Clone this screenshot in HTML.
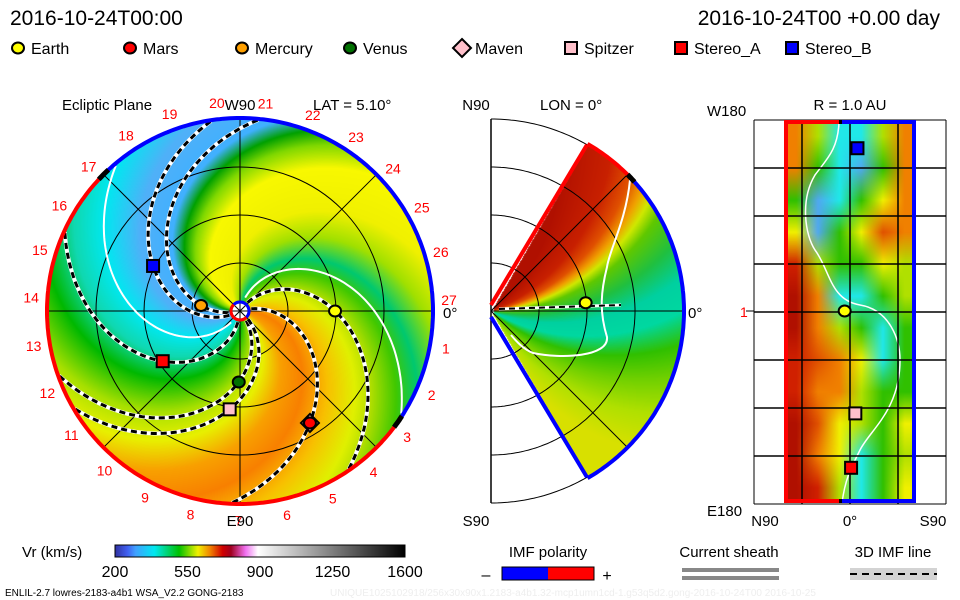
<!DOCTYPE html>
<html><head><meta charset="utf-8">
<style>
html,body{margin:0;padding:0;background:#fff;}
#wrap{position:relative;width:960px;height:600px;overflow:hidden;background:#fff;font-family:"Liberation Sans",sans-serif;}
canvas{position:absolute;}
svg{position:absolute;left:0;top:0;}
text{font-family:"Liberation Sans",sans-serif;}
</style></head>
<body>
<div id="wrap">
<canvas id="cvL" width="400" height="400" style="left:40px;top:111px"></canvas>
<canvas id="cvM" width="200" height="384" style="left:491px;top:119px"></canvas>
<canvas id="cvR" width="130" height="383" style="left:785px;top:120px"></canvas>
<svg id="sv" width="960" height="600"></svg>
</div>
<script>
// ---------- data ----------
const bodyNames = ['Earth','Mars','Mercury','Venus','Maven','Spitzer','Stereo_A','Stereo_B'];
const bodyR   = [0.99, 1.375, 0.41, 0.74, 1.375, 1.03, 0.96, 1.02];   // AU
const bodyLon = [0, -58, 172, 269, -58, 264, 213, 152.6];             // deg, ecliptic
const bodyLat = [5, 0, 0, 0, 0, -5, -1, -7];                          // deg
const bodyInSphere = [true,false,false,false,false,true,true,true];
const spiralBodies = ['Earth','Mars','Mercury','Venus','Spitzer','Stereo_A','Stereo_B'];
const sheathPhases = [185, 22];
const carrLabels = [1,2,3,4,5,6,7,8,9,10,11,12,13,14,15,16,17,18,19,20,21,22,23,24,25,26,27];
const cbTicks = [200, 550, 900, 1250, 1600];
const cbSpeeds = [200, 260, 300, 390, 510, 600, 660, 720, 760, 830, 890, 1600];
const cbColors = ['#3030a0','#4060f0','#40a0ff','#00e8f0','#00c000','#f0f000','#f08000','#d00000','#a00020','#f070f0','#ffffff','#000000'];

const K = 55; // spiral winding deg/AU
const CX = 240, CY = 311, PX = 96; // left panel
const MX = 491, MY = 311;          // middle panel
const sv = document.getElementById('sv');
const NS = 'http://www.w3.org/2000/svg';

function hex(c){return [parseInt(c.slice(1,3),16),parseInt(c.slice(3,5),16),parseInt(c.slice(5,7),16)];}
function interp(stops,v){
  if(v<=stops[0][0]) return hex(stops[0][1]);
  for(let i=1;i<stops.length;i++){
    if(v<=stops[i][0]){const a=hex(stops[i-1][1]),b=hex(stops[i][1]);const t=(v-stops[i-1][0])/(stops[i][0]-stops[i-1][0]);
      return [a[0]+(b[0]-a[0])*t,a[1]+(b[1]-a[1])*t,a[2]+(b[2]-a[2])*t];}
  }
  return hex(stops[stops.length-1][1]);
}
function el(tag,attrs,parent){const e=document.createElementNS(NS,tag);for(const k in attrs)e.setAttribute(k,attrs[k]);(parent||sv).appendChild(e);return e;}
function txt(x,y,s,size,fill,anchor,name){const t=el('text',{x:x,y:y,'font-size':size,fill:fill||'#000','text-anchor':anchor||'start'});t.textContent=s;
  
  
  return t;}
function polar(r,deg){const a=deg*Math.PI/180;return [CX+r*PX*Math.cos(a),CY-r*PX*Math.sin(a)];}
function arcPts(cx,cy,R,a1,a2){const p=[];const n=Math.max(8,Math.ceil(Math.abs(a2-a1)));for(let i=0;i<=n;i++){const a=(a1+(a2-a1)*i/n)*Math.PI/180;p.push((cx+R*Math.cos(a)).toFixed(1)+','+(cy-R*Math.sin(a)).toFixed(1));}return p.join(' ');}

// ---------- left field ----------
const phiStops=[[0,'#b8e000'],[18,'#40c800'],[32,'#00c870'],[50,'#a0e000'],[70,'#f0f000'],[100,'#f8f800'],[115,'#80d800'],[125,'#00a000'],[135,'#40b0ff'],[160,'#50b0f8'],[185,'#00e8f0'],[205,'#10d8b0'],[225,'#00b800'],[250,'#a8e000'],[270,'#e8f000'],[290,'#f8a000'],[310,'#f88000'],[330,'#f8c000'],[350,'#e0f000'],[360,'#b8e000']];
(function(){
  const c=document.getElementById('cvL').getContext('2d');const im=c.createImageData(400,400);
  for(let y=0;y<400;y++)for(let x=0;x<400;x++){
    const dx=x-200,dy=200-y,r=Math.sqrt(dx*dx+dy*dy);if(r>193)continue;
    const i=(y*400+x)*4;let col;
    if(r<9){col=[255,255,255];}else{
      const th=Math.atan2(dy,dx)*180/Math.PI;let phi=th+K*(r/PX-1);phi=((phi%360)+360)%360;col=interp(phiStops,phi);}
    im.data[i]=col[0];im.data[i+1]=col[1];im.data[i+2]=col[2];im.data[i+3]=255;}
  c.putImageData(im,0,0);
})();
// ---------- middle field ----------
const sStops=[[-75,'#d8e000'],[-62,'#b0e000'],[-50,'#70d000'],[-40,'#30c000'],[-30,'#00d8a0'],[-20,'#00d0a0'],[-10,'#20c040'],[0,'#60c800'],[5,'#d0e800'],[9,'#f0a000'],[14,'#e05000'],[22,'#c82000'],[40,'#b01000']];
(function(){
  const c=document.getElementById('cvM').getContext('2d');const im=c.createImageData(200,384);
  for(let y=0;y<384;y++)for(let x=0;x<200;x++){
    const dx=x,dy=192-y,r=Math.sqrt(dx*dx+dy*dy);if(r>192||r<3)continue;
    const lat=Math.atan2(dy,dx)*180/Math.PI;if(Math.abs(lat)>60)continue;
    const col=interp(sStops,lat-15*r/PX);const i=(y*200+x)*4;
    im.data[i]=col[0];im.data[i+1]=col[1];im.data[i+2]=col[2];im.data[i+3]=255;}
  c.putImageData(im,0,0);
})();
// ---------- right field ----------
const gridC={dr:'#b01000',r:'#d02000',ro:'#e05000',o:'#f08000',y:'#f0f000',yg:'#b0e000',g:'#30c000',c:'#20e8e8',b:'#50a8f0',t:'#00d0a0'};
const sphereGrid=[
 ['o','yg','c','c','yg','o'],
 ['o','g','c','b','g','o'],
 ['g','b','c','g','y','o'],
 ['y','b','g','y','ro','o'],
 ['r','yg','g','g','y','yg'],
 ['dr','o','c','c','g','yg'],
 ['dr','o','yg','g','c','g'],
 ['r','ro','o','y','c','g'],
 ['r','o','o','yg','g','g'],
 ['dr','ro','y','yg','g','y'],
 ['dr','o','y','c','g','yg'],
 ['dr','r','yg','c','g','y']];
(function(){
  const c=document.getElementById('cvR').getContext('2d');const W=130,H=383;const im=c.createImageData(W,H);
  const nr=sphereGrid.length,nc=sphereGrid[0].length;
  for(let y=0;y<H;y++)for(let x=0;x<W;x++){
    let gx=x/W*nc-0.5,gy=y/H*nr-0.5;gx=Math.max(0,Math.min(nc-1.001,gx));gy=Math.max(0,Math.min(nr-1.001,gy));
    const x0=Math.floor(gx),y0=Math.floor(gy),tx=gx-x0,ty=gy-y0;
    const a=hex(gridC[sphereGrid[y0][x0]]),b=hex(gridC[sphereGrid[y0][x0+1]]),cc=hex(gridC[sphereGrid[y0+1][x0]]),d=hex(gridC[sphereGrid[y0+1][x0+1]]);
    const i=(y*W+x)*4;
    for(let k=0;k<3;k++)im.data[i+k]=(a[k]*(1-tx)+b[k]*tx)*(1-ty)+(cc[k]*(1-tx)+d[k]*tx)*ty;
    im.data[i+3]=255;}
  c.putImageData(im,0,0);
})();

// ---------- header ----------
txt(10,25,'2016-10-24T00:00',21,'#000','start','date-title');
txt(940,25,'2016-10-24T00 +0.00 day',21,'#000','end','elapsed-title');
const legX=[18,130,242,350,462,571,681,792];
const fills={Earth:'#ffff00',Mars:'#ff0000',Mercury:'#ffa000',Venus:'#007000',Maven:'#ffc0cb',Spitzer:'#ffc0cb',Stereo_A:'#ff0000',Stereo_B:'#0000ff'};
function marker(name,x,y,g){
  let m;
  if(['Earth','Mars','Mercury','Venus'].includes(name)) m=el('ellipse',{cx:x,cy:y,rx:6,ry:5.5,fill:fills[name],stroke:'#000','stroke-width':2},g);
  else if(name==='Maven') m=el('polygon',{points:`${x},${y-9} ${x+9},${y} ${x},${y+9} ${x-9},${y}`,fill:fills[name],stroke:'#000','stroke-width':2},g);
  else m=el('rect',{x:x-6,y:y-6,width:12,height:12,fill:fills[name],stroke:'#000','stroke-width':2},g);
  return m;
}
bodyNames.forEach((n,i)=>{
  const g=el('g',{});
  
  
  marker(n,legX[i],48,g);
  const t=el('text',{x:legX[i]+13,y:54,'font-size':16},g);t.textContent=n;
});

// ---------- left panel overlay ----------
txt(62,110,'Ecliptic Plane',15,'#000','start','ecliptic-title');
txt(313,110,'LAT = 5.10°',15,'#000','start','lat-label');
[0.5,1,1.5].forEach(r=>{const c=el('circle',{cx:CX,cy:CY,r:r*PX,fill:'none',stroke:'#000','stroke-width':1});
  
  });
[0,45,90,135].forEach(a=>{const p1=polar(2.01,a),p2=polar(2.01,a+180);const l=el('line',{x1:p1[0],y1:p1[1],x2:p2[0],y2:p2[1],stroke:'#000','stroke-width':1});
  
  });
sheathPhases.forEach(ph=>{const pts=[];for(let r=0.15;r<=2.005;r+=0.02){const p=polar(r,ph-K*(r-1));pts.push(p[0].toFixed(1)+','+p[1].toFixed(1));}
  const l=el('polyline',{points:pts.join(' '),fill:'none',stroke:'#fff','stroke-width':2});
  
  });
spiralBodies.forEach(n=>{const i=bodyNames.indexOf(n);const pts=[];
  for(let r=0.12;r<=2.005;r+=0.02){const p=polar(r,bodyLon[i]-K*(r-bodyR[i]));pts.push(p[0].toFixed(1)+','+p[1].toFixed(1));}
  const w=el('polyline',{points:pts.join(' '),fill:'none',stroke:'#fff','stroke-width':4});
  
  
  const b=el('polyline',{points:pts.join(' '),fill:'none',stroke:'#000','stroke-width':3,'stroke-dasharray':'6 4'});
  
  });
const rb=el('polyline',{points:arcPts(CX,CY,193,-35,135),fill:'none',stroke:'#0000ff','stroke-width':4});


const rr=el('polyline',{points:arcPts(CX,CY,193,135,325),fill:'none',stroke:'#ff0000','stroke-width':4});


[[133,137],[-37,-33]].forEach(a=>{const k=el('polyline',{points:arcPts(CX,CY,193,a[0],a[1]),fill:'none',stroke:'#000','stroke-width':5});
  
  });
const sunB=el('polyline',{points:arcPts(CX,CY,9,-45,135),fill:'none',stroke:'#0000ff','stroke-width':3});


const sunR=el('polyline',{points:arcPts(CX,CY,9,135,315),fill:'none',stroke:'#ff0000','stroke-width':3});


carrLabels.forEach(n=>{const a=3+(27-n)*13.333;const p=polar(2.18,a);
  txt(p[0],p[1]+5,String(n),14,'#ff0000','middle','carrington-label-'+n);});
txt(240,110,'W90',15,'#000','middle','w90-label');
txt(240,526,'E90',15,'#000','middle','e90-label');
txt(443,318,'0°',15,'#000','start','lon0-label');
bodyNames.forEach((n,i)=>{const p=polar(bodyR[i],bodyLon[i]);const m=marker(n,p[0],p[1]);
  
  });
{const i=bodyNames.indexOf('Mars');const p=polar(bodyR[i],bodyLon[i]);const m=marker('Mars',p[0],p[1]);
  
  }

// ---------- middle panel overlay ----------
txt(476,110,'N90',15,'#000','middle','n90-label');
txt(540,110,'LON = 0°',15,'#000','start','lon-label');
txt(476,526,'S90',15,'#000','middle','s90-label');
txt(688,318,'0°',15,'#000','start','mid-lat0-label');
[48,96,144,192].forEach(R=>{const c=el('polyline',{points:arcPts(MX,MY,R,-90,90),fill:'none',stroke:'#000','stroke-width':1});
  
  });
{const l=el('line',{x1:MX,y1:MY-192,x2:MX,y2:MY+192,stroke:'#000','stroke-width':1.5});
  
  }
[45,0,-45].forEach(a=>{const r=a*Math.PI/180;const l=el('line',{x1:MX,y1:MY,x2:MX+192*Math.cos(r),y2:MY-192*Math.sin(r),stroke:'#000','stroke-width':1});
  
  });
{const ctr=el('path',{d:`M${MX+139},${MY-131} C${MX+135},${MY-90} ${MX+118},${MY-60} ${MX+116},${MY-44} C${MX+110},${MY-20} ${MX+108},${MY} ${MX+116},${MY+26} C${MX+118},${MY+46} ${MX+70},${MY+48} ${MX+42},${MY+42} C${MX+32},${MY+38} ${MX+25},${MY+30} ${MX+20},${MY+24}`,fill:'none',stroke:'#fff','stroke-width':2});
 
 }
{const e=0;const r=bodyR[e]*PX,a=bodyLat[e]*Math.PI/180;const ex=MX+r*Math.cos(a),ey=MY-r*Math.sin(a);
 const w=el('line',{x1:MX+8,y1:MY-2,x2:MX+130,y2:MY-6,stroke:'#fff','stroke-width':3});
 
 
 const l=el('line',{x1:MX+8,y1:MY-2,x2:MX+130,y2:MY-6,stroke:'#000','stroke-width':2,'stroke-dasharray':'6 4'});
 
 
 const m=marker('Earth',ex,ey);
 
 }
{const p1=el('line',{x1:MX,y1:MY-6,x2:MX+192*Math.cos(Math.PI/3),y2:MY-192*Math.sin(Math.PI/3),stroke:'#ff0000','stroke-width':4});
 
 
 const p2=el('line',{x1:MX,y1:MY+6,x2:MX+192*Math.cos(Math.PI/3),y2:MY+192*Math.sin(Math.PI/3),stroke:'#0000ff','stroke-width':4});
 
 
 const a1=el('polyline',{points:arcPts(MX,MY,193,44,60),fill:'none',stroke:'#ff0000','stroke-width':4});
 
 
 const a2=el('polyline',{points:arcPts(MX,MY,193,-60,43),fill:'none',stroke:'#0000ff','stroke-width':4});
 
 
 const a3=el('polyline',{points:arcPts(MX,MY,193,42,45),fill:'none',stroke:'#000','stroke-width':5});
 
 }

// ---------- right panel overlay ----------
const RX0=754,RY0=120,RW=192,RH=384;
function latX(lat){return 850-lat*96/90;}
function lonY(lon){let d=((lon+180)%360+360)%360-180;return 311-d*RH/360;}
txt(707,116,'W180',15,'#000','start','w180-label');
txt(707,516,'E180',15,'#000','start','e180-label');
txt(850,110,'R = 1.0 AU',15,'#000','middle','radius-label');
txt(765,526,'N90',15,'#000','middle','sphere-n90-label');
txt(850,526,'0°',15,'#000','middle','sphere-lat0-label');
txt(933,526,'S90',15,'#000','middle','sphere-s90-label');
txt(740,317,'1',14,'#ff0000','start','sphere-carrington-label');
{const tk=el('line',{x1:746,y1:311,x2:754,y2:311,stroke:'#000','stroke-width':1});
 
 }
{const sh=el('path',{d:'M839,122 C838,150 826,160 815,175 C800,200 805,235 815,250 C830,270 830,300 860,305 C890,310 900,340 900,360 C900,410 870,430 860,450 C850,470 845,480 842,503',fill:'none',stroke:'#fff','stroke-width':1.5});
 
 }
for(let i=0;i<=8;i++){const l=el('line',{x1:RX0,y1:RY0+i*48,x2:RX0+RW,y2:RY0+i*48,stroke:'#000','stroke-width':i%8?1.5:1});
  
  }
for(let i=0;i<=4;i++){const l=el('line',{x1:RX0+i*48,y1:RY0,x2:RX0+i*48,y2:RY0+RH,stroke:'#000','stroke-width':i%4?1.5:1});
  
  }
[['M786,120 L786,503','#ff0000'],['M786,122 L839,122','#ff0000'],['M786,501 L839,501','#ff0000'],['M842,122 L914,122','#0000ff'],['M842,501 L914,501','#0000ff'],['M914,120 L914,503','#0000ff'],['M839,122 L842,122','#000'],['M839,501 L842,501','#000']].forEach(d=>{
  const p=el('path',{d:d[0],stroke:d[1],'stroke-width':4,fill:'none'});
  
  });
bodyNames.forEach((n,i)=>{if(!bodyInSphere[i])return;const m=marker(n,latX(bodyLat[i]),lonY(bodyLon[i]));
  
  });

// ---------- colorbar ----------
const CB0=115,CB1=405;
function cbX(v){return CB0+(v-200)/(1600-200)*(CB1-CB0);}
{const d=el('defs',{});const g=el('linearGradient',{id:'cbg',x1:0,x2:1,y1:0,y2:0},d);
 cbSpeeds.forEach((v,i)=>el('stop',{offset:((v-200)/1400*100).toFixed(1)+'%','stop-color':cbColors[i]},g));
 const r=el('rect',{x:CB0,y:545,width:CB1-CB0,height:12,fill:'url(#cbg)',stroke:'#000','stroke-width':1});
 
 }
txt(22,557,'Vr (km/s)',15,'#000','start','colorbar-title');
cbTicks.forEach(v=>txt(cbX(v),577,String(v),16,'#000','middle','colorbar-tick-'+v));
txt(548,557,'IMF polarity',15,'#000','middle','imf-polarity-title');
{const b=el('rect',{x:502,y:567,width:46,height:13,fill:'#0000ff'});
 
 
 const r=el('rect',{x:548,y:567,width:46,height:13,fill:'#ff0000'});
 
 
 const o=el('rect',{x:502,y:567,width:92,height:13,fill:'none',stroke:'#000','stroke-width':1});
 
 }
txt(486,580,'–',16,'#000','middle','polarity-minus');
txt(607,581,'+',16,'#000','middle','polarity-plus');
txt(729,557,'Current sheath',15,'#000','middle','current-sheath-title');
[570,578].forEach(y=>{const l=el('rect',{x:682,y:y-2,width:97,height:4,fill:'#888'});
  
  });
txt(893,557,'3D IMF line',15,'#000','middle','imf-line-title');
{const b=el('rect',{x:850,y:568,width:87,height:12,fill:'#d3d3d3'});
 
 
 const l=el('line',{x1:850,y1:574,x2:937,y2:574,stroke:'#000','stroke-width':2,'stroke-dasharray':'7 5'});
 
 }
txt(5,596,'ENLIL-2.7 lowres-2183-a4b1 WSA_V2.2 GONG-2183',10,'#000','start','model-info');
txt(330,596,'UNIQUE1025102918/256x30x90x1.2183-a4b1.32-mcp1umn1cd-1.g53q5d2.gong-2016-10-24T00    2016-10-25',10,'#eeeeee','start','run-id');
</script>
</body></html>
